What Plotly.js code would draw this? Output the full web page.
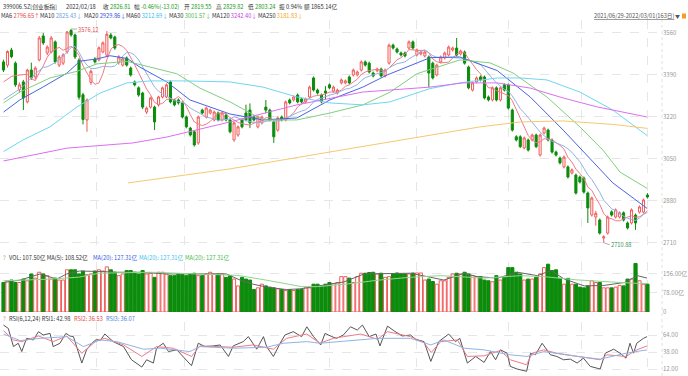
<!DOCTYPE html>
<html><head><meta charset="utf-8">
<script src="https://cdn.plot.ly/plotly-3.0.1.min.js"></script>
<style>html,body{margin:0;padding:0;background:#fff;}#c{width:688px;height:376px;}</style>
</head><body><div id="c"></div>
<script>
// ---- Daily candles (index 0 = 2021/06/29 ... 162 = 2022/03/01) ----
const O=[3443,3430,3491,3438,3330,3362,3281,3410,3382,3451,
3548,3479,3483,3524,3430,3438,3483,3570,3552,3450,
3310,3208,3360,3455,3451,3483,3470,3552,3544,3440,
3430,3459,3418,3362,3338,3317,3240,3260,3260,3269,
3301,3301,3362,3289,3289,3277,3220,3175,3160,3115,
3248,3220,3236,3208,3236,3208,3228,3208,3127,3147,
3208,3236,3248,3220,3180,3196,3260,3248,3200,3167,
3220,3208,3289,3289,3309,3293,3281,3301,3378,3329,
3309,3325,3350,3325,3317,3358,3358,3382,3390,3390,
3410,3443,3438,3398,3407,3414,3386,3438,3511,3495,
3479,3479,3499,3524,3471,3475,3467,3463,3438,3390,
3443,3459,3471,3491,3499,3475,3483,3422,3329,3362,
3382,3382,3301,3289,3338,3289,3350,3350,3248,3140,
3140,3095,3127,3127,3147,3066,3155,3167,3127,3078,
3054,3018,3018,2993,2985,2977,2973,2912,2823,2815,
2803,2730,2750,2836,2815,2815,2832,2791,2791,2823,
2835,2835,2904];
const H=[3452,3490,3500,3445,3360,3370,3415,3440,3425,3548,
3560,3510,3548,3530,3470,3478,3568,3576.12,3558,3458,
3318,3295,3412,3462,3506,3526,3568,3560,3549,3470,
3460,3465,3424,3368,3344,3322,3262,3302,3266,3306,
3343,3356,3368,3294,3295,3283,3226,3180,3166,3226,
3254,3262,3254,3246,3242,3242,3234,3214,3202,3186,
3214,3270,3275,3226,3226,3226,3289,3254,3206,3222,
3226,3287,3295,3307,3315,3299,3299,3347,3384,3335,
3315,3345,3356,3347,3335,3376,3372,3388,3416,3408,
3449,3449,3444,3404,3420,3420,3416,3517,3517,3501,
3485,3485,3530,3530,3497,3489,3489,3469,3444,3436,
3469,3485,3509,3505,3540,3493,3489,3428,3364,3384,
3388,3388,3307,3344,3344,3344,3356,3356,3254,3146,
3146,3141,3133,3153,3153,3153,3181,3173,3133,3084,
3060,3064,3024,3012,2991,2983,2979,2918,2898,2840,
2809,2741,2821,2842,2850,2838,2838,2797,2850,2829,
2862,2890,2912];
const L=[3402,3420,3458,3342,3318,3248,3275,3370,3372,3445,
3512,3470,3478,3436,3422,3430,3476,3545,3455,3290,
3190,3160,3350,3436,3445,3478,3462,3534,3492,3432,
3424,3424,3384,3344,3302,3252,3232,3254,3167,3262,
3295,3296,3275,3263,3270,3214,3174,3141,3100,3108,
3230,3214,3230,3202,3202,3202,3202,3154,3120,3140,
3174,3202,3175,3202,3174,3190,3235,3202,3115,3160,
3202,3202,3271,3283,3275,3275,3275,3295,3323,3311,
3275,3290,3332,3319,3311,3352,3352,3352,3384,3384,
3404,3424,3396,3380,3401,3380,3380,3432,3493,3477,
3465,3461,3493,3493,3465,3469,3461,3341,3372,3384,
3437,3453,3465,3485,3465,3469,3432,3332,3323,3356,
3364,3291,3283,3283,3283,3283,3323,3250,3161,3121,
3094,3089,3080,3121,3094,3060,3149,3121,3072,3060,
3028,3012,2971,2987,2906,2951,2910,2791,2817,2780,
2744,2710.88,2744,2817,2809,2809,2797,2765,2785,2763,
2829,2829,2890];
const C=[3410,3485,3464,3350,3350,3297,3410,3378,3418,3540,
3520,3503,3540,3443,3463,3471,3564,3552,3463,3300,
3210,3289,3405,3443,3500,3520,3555,3540,3499,3463,
3455,3430,3390,3350,3309,3260,3256,3297,3200,3301,
3338,3350,3281,3269,3277,3220,3180,3147,3107,3220,
3236,3256,3248,3240,3208,3236,3208,3160,3196,3180,
3180,3208,3196,3208,3220,3220,3248,3208,3140,3216,
3208,3281,3277,3301,3281,3281,3293,3341,3329,3317,
3281,3317,3338,3341,3329,3370,3366,3358,3410,3402,
3443,3430,3402,3386,3414,3386,3410,3511,3499,3483,
3471,3467,3524,3499,3491,3483,3483,3398,3378,3430,
3463,3479,3503,3499,3471,3487,3438,3338,3358,3378,
3370,3297,3289,3338,3289,3338,3329,3256,3167,3127,
3100,3135,3086,3147,3100,3147,3175,3127,3078,3066,
3034,3058,2977,3006,2912,2957,2916,2852,2892,2830,
2750,2735,2815,2823,2844,2832,2803,2771,2844,2791,
2856,2884,2896];
// volume (亿)
const V=[121,128,131,121,121,135,128,156,139,163,
156,149,135,139,131,131,173,173,173,156,
168,153,156,168,173,168,185,173,163,149,
156,170,170,163,156,170,156,159,142,163,
163,156,149,149,156,153,149,156,159,149,
149,156,163,156,156,156,142,149,135,107,
142,135,131,92,99,114,107,102,99,95,
92,88,92,88,92,92,99,99,114,114,
107,114,121,117,121,145,145,139,121,145,
159,159,162,163,156,159,142,145,156,160,
156,156,156,160,160,160,131,135,125,114,
128,128,142,156,159,156,163,156,149,145,
145,131,128,124,149,131,142,182,182,163,
156,131,135,135,142,156,182,196,170,173,
138,114,138,114,114,102,99,107,128,121,
121,99,99,99,102,109,107,135,135,199,
128,114,114];
// price moving averages
const ma6=[3362,3372,3384,3388,3390,3393,3393,3375,3367,3399,
3427,3462,3483,3494,3502,3490,3497,3506,3493,3469,
3427,3396,3370,3352,3358,3395,3452,3494,3510,3513,
3505,3490,3463,3431,3400,3366,3333,3310,3279,3271,
3275,3290,3295,3290,3303,3289,3263,3229,3200,3192,
3185,3191,3202,3218,3235,3237,3233,3217,3208,3198,
3193,3189,3187,3195,3199,3205,3217,3217,3207,3209,
3207,3217,3222,3237,3261,3272,3286,3296,3304,3307,
3307,3313,3321,3321,3321,3329,3344,3350,3362,3373,
3392,3402,3408,3412,3413,3410,3405,3418,3434,3451,
3460,3474,3493,3491,3489,3489,3491,3480,3455,3444,
3439,3439,3442,3459,3474,3484,3480,3456,3432,3412,
3395,3363,3338,3338,3327,3320,3313,3307,3286,3251,
3220,3186,3145,3127,3116,3119,3132,3130,3129,3116,
3105,3090,3057,3037,3009,2991,2971,2937,2923,2893,
2866,2829,2812,2808,2800,2800,2809,2815,2820,2814,
2816,2825,2840];
const ma10=[3290,3300,3312,3322,3332,3345,3360,3378,3395,3410,
3421,3423,3431,3440,3451,3469,3484,3501,3506,3482,
3451,3430,3416,3416,3420,3425,3424,3423,3426,3442,
3467,3481,3480,3470,3451,3425,3395,3371,3341,3325,
3313,3305,3294,3286,3283,3279,3271,3256,3247,3239,
3229,3219,3216,3213,3206,3208,3211,3212,3221,3217,
3211,3206,3201,3198,3199,3198,3202,3206,3201,3204,
3207,3215,3223,3232,3238,3244,3249,3262,3281,3291,
3298,3302,3308,3312,3317,3326,3333,3335,3343,3351,
3367,3379,3385,3390,3398,3400,3404,3419,3428,3436,
3439,3443,3455,3466,3474,3484,3491,3480,3468,3462,
3462,3463,3461,3461,3459,3459,3455,3449,3447,3441,
3432,3414,3393,3376,3358,3343,3332,3324,3305,3280,
3253,3237,3217,3197,3179,3159,3144,3131,3122,3116,
3110,3102,3091,3077,3058,3039,3013,2986,2967,2943,
2915,2883,2867,2848,2841,2829,2818,2810,2805,2801,
2811,2826,2834];
const ma20X=[0,4.1,9.9,16,19.2,23.5,26.8,31.1,34.3,41.1,46.9,57,65.3,73.8,82.1,90.4,96.5,104,107.3,114.8,124.2,132.5,140.8,153.3,161.9];
const ma20Y=[3240,3289,3341,3398,3446,3455,3468,3457,3422,3362,3289,3232,3208,3216,3289,3341,3390,3439,3460,3463,3408,3301,3167,2953,2850];
const ma30X=[0,4.1,11.7,18.5,23.5,31.1,36.9,43.6,49.4,57,65.3,73.8,82.1,90.4,97.2,104,114.8,122.4,128.2,136.7,145,150.8,155.1,161.9];
const ma30Y=[3277,3321,3378,3405,3435,3445,3422,3395,3337,3281,3208,3208,3236,3269,3320,3395,3451,3439,3398,3301,3180,3086,2997,2931];
const ma60X=[0,4.9,11.7,18.5,24.3,31.1,36.9,45.2,57,65.3,73.8,82.1,90.4,97.2,107.3,114.8,124.2,130,136.7,145,153.3,161.9];
const ma60Y=[3080,3127,3180,3261,3317,3358,3366,3366,3362,3341,3301,3277,3269,3281,3335,3358,3378,3378,3370,3321,3248,3145];
const ma120X=[0,16,32.6,41.1,57,73.8,90.4,107.3,115.6,124.2,132.5,140.8,149.3,161.9];
const ma120Y=[3042,3094,3115,3139,3200,3269,3321,3341,3358,3358,3337,3297,3261,3220];
const ma250X=[31.3,57,86.4,107.3,119.9,130,140.8,153.3,161.9];
const ma250Y=[2953,3010,3090,3148,3180,3200,3204,3190,3174];
// volume moving averages
const vma5X=[0,4.2,9.2,13.4,15.9,19.2,24.3,28.5,34.3,41,46.1,51.1,56.1,59.5,62.8,66.2,71.2,74.6,79.6,83,85.6,90.7,96.6,102.4,107.5,110.8,115.9,119.2,124.3,129.3,134.3,137.7,141.1,146.1,151.1,156.2,159.5,161.9];
const vma5Y=[121,131,156,135,156,168,166,163,163,156,156,156,156,131,114,102,92,95,109,116,123,156,156,159,142,131,159,145,139,163,149,170,135,107,109,121,149,139];
const vma20X=[0,12,19,24,37,49,59,66,75,79,86,94,102,110,121,130,136,144,150,153,160,161.9];
const vma20Y=[128,135,143,159,163,156,150,131,104,104,114,130,142,149,139,149,145,132,128,123,117,117];
// RSI
const rsi1X=[0,1.2,2.5,3.7,4.6,5.8,7.5,8.8,10,11.7,12.5,14.2,15.7,16.7,17.6,19.7,20.9,22.2,23.4,24.3,25.5,27.6,30.2,32.2,34.8,36,37.7,38.5,40.2,41.5,43.6,45.2,47.3,49,50.7,52.8,54.5,56.6,57.8,60.3,61.6,63.7,65.4,66.2,67.9,69.6,70.8,72.9,75,76.3,78,79.8,80.9,82.6,83.8,85.5,87.3,89,90.3,92,93.7,94.7,96.6,98.2,100.3,102.4,103.7,105.8,107.5,109.5,112,113.7,114.8,116.7,118.8,120.9,122.5,123.8,125,126.7,127.5,129.2,131.6,132.6,133.8,135.5,137.6,139.2,140.9,142.6,144.3,145.9,147.6,150.1,151.4,153.5,155.1,156.6,157.6,158.5,159.3,161,161.9];
const rsi1Y=[79.2,74.1,46.3,51.4,38.7,58.9,56.4,69.1,64,66.5,46.3,51.4,66.5,62.5,61.5,21.1,41.3,51.4,57.4,55.4,65.5,53.9,46.3,26.1,15,26.1,21.1,43.8,51.4,38.7,41.3,31.2,17,51.4,46.3,47.3,48.8,31.2,47.3,53.9,61.5,42.3,61.5,46.3,31.2,51.4,64,69.1,61.5,76.6,61.5,48.8,66.5,61.5,58.9,64,76.6,71.6,79.2,61.5,65.5,47.3,77.6,70.6,62.5,64,57.4,53.9,23.6,53.9,65.5,53.9,58.9,21.1,31.2,22.1,38.7,26.1,41.3,36.2,16,12,8.5,36.2,33.7,51.4,33.7,31.2,26.1,27.1,21.1,28.6,16,12,36.2,42.3,36.2,28.6,51.4,36.2,51.4,58.9,61.5];
const rsi2X=[0,2.5,4.6,8.8,12.5,15.9,19.7,23.4,25.5,30.2,34.8,38.5,42.7,47.3,49.4,57.8,62.8,67.9,71.2,76.3,79.6,83,85.6,89.9,94.1,96.6,102.4,105.8,107.6,110,114.2,116.7,120.9,125,127.5,131.6,133,135.9,139.2,144.3,150.1,151.8,156.6,159.3,161.9];
const rsi2Y=[70.6,56.4,53.9,62.5,53.9,62.5,36.2,55.4,58.9,48.8,31.2,46.3,43.8,31.2,47.3,45.3,48.8,42.3,58.9,65.5,51.4,58.9,61.5,65.5,57.4,69.1,61.5,52.4,37.2,53.9,56.4,31.2,32.2,40.3,26.1,18.5,36.2,41.3,36.2,31.2,26.1,33.7,31.2,41.3,47.3];
const rsi3X=[0,4.2,9.2,15.9,20.1,24.3,28.5,35.2,39.4,46.9,49.4,57.8,66.2,70.4,76.3,79.6,85.6,94.1,102.4,107.5,110.8,115.9,120.9,127.5,131.7,135.9,144.3,150.1,156.6,161.9];
const rsi3Y=[65.5,55.4,58.9,61.5,46.3,56.4,53.9,42.3,43.8,38.7,46.3,43.8,45.3,51.4,53.9,51.4,54.5,58.9,58.9,48.8,56.4,43.8,41.3,33.7,31.2,38.7,31.2,27.1,36.2,41.3];
// axis ticks
const priceTicks=[2710,2880,3050,3220,3390,3560];
const volTicks=[0,78,156], volTickText=['0','78.00亿','156.00亿'];
const rsiTicks=[12,38,64], rsiTickText=['12.00','38.00','64.00'];
const monthGrid=[23.5,45.5,82,104,127,145.5,161.9];

// ---- build ----
const RED='#f25a5a', GRN='#0c8c0c';
const idx=C.map((_,i)=>i);
const up=C.map((c,i)=>c>=O[i]);
const FONT='"Noto Sans CJK SC","Noto Sans",sans-serif';
const HF=5.7;
function line(x,y,color,yaxis,w){return {type:'scatter',mode:'lines',x:x,y:y,yaxis:yaxis,line:{color:color,width:w||1},hoverinfo:'skip',showlegend:false};}
const traces=[
  {type:'candlestick',x:idx,open:O,high:H,low:L,close:C,yaxis:'y',whiskerwidth:0,
   increasing:{line:{color:RED,width:1},fillcolor:'#ffffff'},
   decreasing:{line:{color:GRN,width:1},fillcolor:GRN},hoverinfo:'skip',showlegend:false},
  line(idx,ma6,'#f07a86','y'),
  line(idx,ma10,'#93b2e2','y'),
  line(ma20X,ma20Y,'#4a64e0','y'),
  line(ma30X,ma30Y,'#7fcf7f','y'),
  line(ma60X,ma60Y,'#6fd6f2','y'),
  line(ma120X,ma120Y,'#dc6ff0','y'),
  line(ma250X,ma250Y,'#f7c870','y'),
  {type:'bar',x:idx,y:V,yaxis:'y2',marker:{color:up.map(u=>u?'#ffffff':GRN),line:{color:up.map(u=>u?RED:GRN),width:1}},hoverinfo:'skip',showlegend:false},
  line(vma5X,vma5Y,'#666666','y2'),
  line(vma20X,vma20Y,'#8fd68f','y2'),
  line(rsi1X,rsi1Y,'#555555','y3'),
  line(rsi2X,rsi2Y,'#f07a86','y3'),
  line(rsi3X,rsi3Y,'#8fb4e6','y3')
];
const PW=662, PH=376;
const px=x=>x/PW, py=y=>1-y/PH;
const anns=[];
function t(x,y,html,color,size){anns.push({xref:'paper',yref:'paper',x:px(x),y:py(y),xanchor:'left',yanchor:'middle',showarrow:false,borderpad:0,text:html,font:{family:FONT,size:size||HF,color:color||'#333'}});}
const g=s=>'<span style="color:#1a9a1a">'+s+'</span>';
const R1=7, R2=15.5;
t(2,R1,'399006.SZ[创业板指]');
t(65,R1,'2022/02/18');
t(102,R1,'收 '+g('2826.81'));
t(133,R1,'幅 '+g('-0.46%(-13.02)'));
t(183,R1,'开 '+g('2819.55'));
t(215,R1,'高 '+g('2829.82'));
t(247,R1,'低 '+g('2803.24'));
t(278,R1,'振 0.94%');
t(303,R1,'额 1865.14亿');
const c=(col,s)=>'<span style="color:'+col+'">'+s+'</span>';
t(0,R2,'MA6 '+c('#e84848','2796.65↑'));
t(39,R2,'MA10 '+c('#6e9ce0','2825.43↓'));
t(83,R2,'MA20 '+c('#2f4fe0','2929.86↓'));
t(125,R2,'MA60 '+c('#30bde6','3212.69↓'));
t(168,R2,'MA30 '+c('#4cb84c','3001.57↓'));
t(211,R2,'MA120 '+c('#c83ce0','3242.40↓'));
t(257,R2,'MA250 '+c('#f0a820','3181.83↓'));
t(593,R2,'<u>2021/06/29-2022/03/01(163日)</u>','#555');
t(674,R2,'▼','#555',5);
t(2,257,'?','#888');
t(8,257,'VOL: 107.50亿 MA(5): 108.52亿');
t(92,257,c('#3a5ae0','MA(20): 127.31亿'));
t(138,257,c('#40c4ea','MA(20): 127.31亿'));
t(184,257,c('#4cb84c','MA(20): 127.31亿'));
t(2,318,'?','#888');
t(8,318,'RSI(6,12,24) RSI1: 42.98');
t(73,318,c('#e84848','RSI2: 36.53'));
t(105,318,c('#4a80d8','RSI3: 36.07'));
// high / low markers
anns.push({xref:'x',yref:'y',x:17,y:3576.12,text:'3576.12',showarrow:true,arrowhead:0,arrowwidth:0.8,arrowcolor:'#999',ax:6,ay:0,xanchor:'left',borderpad:0,font:{family:FONT,size:HF,color:'#e05050'}});
anns.push({xref:'x',yref:'y',x:151,y:2710.88,text:'2710.88',showarrow:true,arrowhead:0,arrowwidth:0.8,arrowcolor:'#999',ax:6,ay:2,xanchor:'left',borderpad:0,font:{family:FONT,size:HF,color:'#3a9a5a'}});

const yax=(dom,rng,tv,tt)=>({domain:dom,range:rng,side:'right',anchor:'x',tickvals:tv,ticktext:tt,showgrid:true,gridcolor:'#e6e6e6',griddash:'dash',gridwidth:1,zeroline:false,showline:false,ticks:'',tickfont:{family:FONT,size:6,color:'#999'},fixedrange:true});
const layout={
  width:688,height:376,margin:{l:0,r:26,t:0,b:0},paper_bgcolor:'#fff',plot_bgcolor:'#fff',
  showlegend:false,bargap:0.2,boxgap:0.25,
  xaxis:{range:[-0.88,165.66],tickvals:monthGrid,showticklabels:false,showgrid:true,gridcolor:'#e6e6e6',griddash:'dash',zeroline:false,showline:false,ticks:'',rangeslider:{visible:false},fixedrange:true},
  yaxis:yax([1-250/PH,1-20/PH],[2681.6,3612.6],priceTicks,priceTicks.map(String)),
  yaxis2:yax([1-312/PH,1-262/PH],[0,205],volTicks,volTickText),
  yaxis3:yax([1-374/PH,1-322/PH],[4.35,83.9],rsiTicks,rsiTickText),
  annotations:anns,
  shapes:[
    {type:'line',xref:'paper',yref:'paper',x0:1,x1:1,y0:0,y1:py(20),line:{color:'#e0e0e0',width:1,dash:'dot'}},
    {type:'rect',xref:'paper',yref:'paper',x0:px(682),x1:px(686),y0:py(18.5),y1:py(13.5),fillcolor:'#f0a020',line:{width:0}}
  ]
};
Plotly.newPlot('c',traces,layout,{staticPlot:true,displayModeBar:false});
</script></body></html>
